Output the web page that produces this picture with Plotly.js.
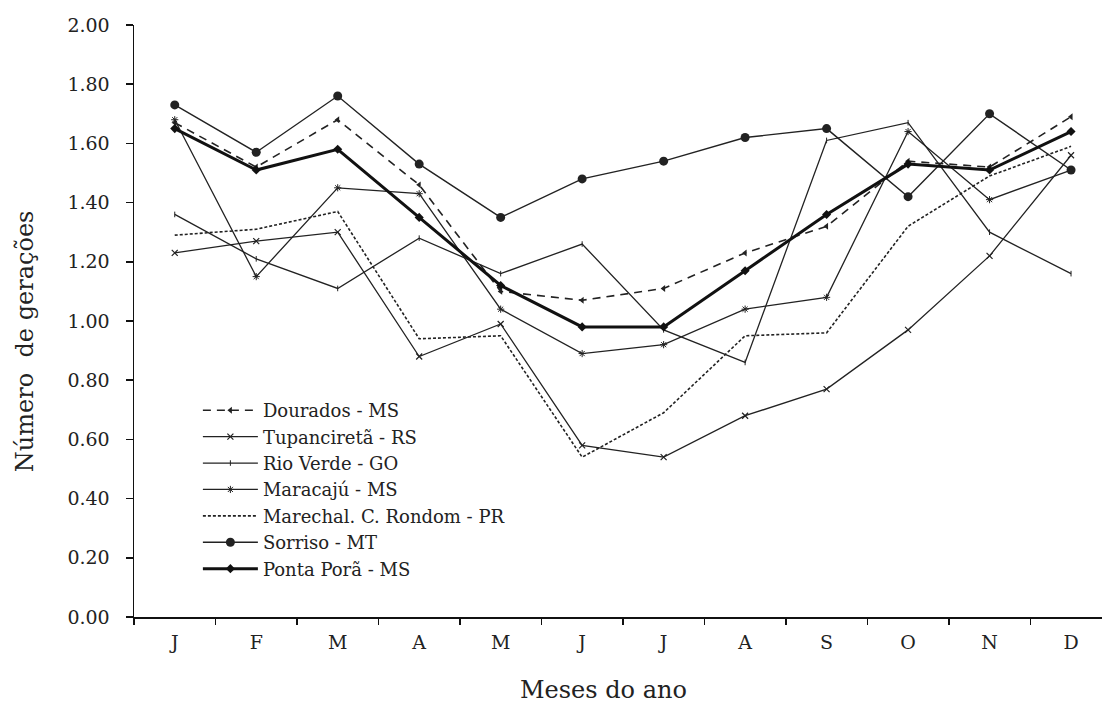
<!DOCTYPE html>
<html>
<head>
<meta charset="utf-8">
<script src="https://cdn.plot.ly/plotly-3.0.1.min.js"></script>
<style>html,body{margin:0;padding:0;background:#fff;}#chart{width:1102px;height:704px;}</style>
</head>
<body>
<div id="chart"></div>
<script>
const months = ["J","F","M","A","M ","J ","J  ","A ","S","O","N","D"];
const monthLabels = ["J","F","M","A","M","J","J","A","S","O","N","D"];

const dourados   = [1.67, 1.52, 1.68, 1.46, 1.10, 1.07, 1.11, 1.23, 1.32, 1.54, 1.52, 1.69];
const tupancireta = [1.23, 1.27, 1.30, 0.88, 0.99, 0.58, 0.54, 0.68, 0.77, 0.97, 1.22, 1.56];
const rioVerde   = [1.36, 1.21, 1.11, 1.28, 1.16, 1.26, 0.97, 0.86, 1.61, 1.67, 1.30, 1.16];
const maracaju   = [1.68, 1.15, 1.45, 1.43, 1.04, 0.89, 0.92, 1.04, 1.08, 1.64, 1.41, 1.51];
const marechal   = [1.29, 1.31, 1.37, 0.94, 0.95, 0.54, 0.69, 0.95, 0.96, 1.32, 1.49, 1.59];
const sorriso    = [1.73, 1.57, 1.76, 1.53, 1.35, 1.48, 1.54, 1.62, 1.65, 1.42, 1.70, 1.51];
const pontaPora  = [1.65, 1.51, 1.58, 1.35, 1.12, 0.98, 0.98, 1.17, 1.36, 1.53, 1.51, 1.64];

const names = ["Dourados - MS","Tupanciretã - RS","Rio Verde - GO","Maracajú - MS","Marechal. C. Rondom - PR","Sorriso - MT","Ponta Porã - MS"];

const ink = "#222";
const FONT = "DejaVu Serif";

const traces = [
  {y: dourados, name: names[0], mode: "lines+markers",
   line: {color: ink, width: 1.6, dash: "8px,6px"},
   marker: {symbol: "triangle-left", size: 6, color: ink}},
  {y: tupancireta, name: names[1], mode: "lines+markers",
   line: {color: ink, width: 1.3},
   marker: {symbol: "x-thin", size: 6, color: ink, line: {color: ink, width: 1.2}}},
  {y: rioVerde, name: names[2], mode: "lines+markers",
   line: {color: ink, width: 1.3},
   marker: {symbol: "line-ns", size: 4, color: ink, line: {color: ink, width: 1}}},
  {y: maracaju, name: names[3], mode: "lines+markers",
   line: {color: ink, width: 1.3},
   marker: {symbol: "asterisk", size: 6, color: ink, line: {color: ink, width: 1}}},
  {y: marechal, name: names[4], mode: "lines",
   line: {color: ink, width: 1.6, dash: "3px,2px"}},
  {y: sorriso, name: names[5], mode: "lines+markers",
   line: {color: ink, width: 1.4},
   marker: {symbol: "circle", size: 9, color: ink}},
  {y: pontaPora, name: names[6], mode: "lines+markers",
   line: {color: "#111", width: 3},
   marker: {symbol: "diamond", size: 7, color: "#111"}}
].map(t => Object.assign({x: months, type: "scatter", cliponaxis: false}, t));

const layout = {
  width: 1102, height: 704,
  margin: {l: 134, r: 0, t: 25, b: 87, pad: 0},
  paper_bgcolor: "#fff", plot_bgcolor: "#fff",
  font: {family: FONT, color: ink, size: 20},
  showlegend: true,
  legend: {x: 0.066, y: 0.38, xanchor: "left", yanchor: "top",
           bgcolor: "rgba(0,0,0,0)", font: {family: FONT, size: 18, color: ink},
           itemwidth: 55, tracegroupgap: 0},
  xaxis: {type: "category", categoryorder: "array", categoryarray: months,
          tickvals: months, ticktext: monthLabels,
          range: [-0.5, 11.38], showgrid: false, zeroline: false,
          showline: true, linecolor: "#111", linewidth: 1.5,
          ticks: "outside", tickson: "boundaries", ticklen: 6, tickwidth: 1.5, tickcolor: "#111",
          tickfont: {family: FONT, size: 19, color: ink}, ticklabelstandoff: 8, fixedrange: true},
  yaxis: {range: [0, 2], dtick: 0.2, tick0: 0, tickformat: ".2f",
          showgrid: false, zeroline: false,
          showline: true, linecolor: "#111", linewidth: 1.5,
          ticks: "outside", ticklen: 7, tickwidth: 1.5, tickcolor: "#111",
          tickfont: {family: FONT, size: 19, color: ink}, ticklabelstandoff: 12, fixedrange: true},
  annotations: [
    {text: "Número\u00a0 de gerações", xref: "paper", yref: "paper", x: 0, y: 0.466,
     xanchor: "center", yanchor: "middle", xshift: -109, textangle: -90, showarrow: false,
     font: {family: FONT, size: 24, color: ink}},
    {text: "Meses do ano", xref: "paper", yref: "paper", x: 0.4855, y: 0,
     xanchor: "center", yanchor: "middle", yshift: -73, showarrow: false,
     font: {family: FONT, size: 24, color: ink}}
  ]
};

Plotly.newPlot("chart", traces, layout, {displayModeBar: false, staticPlot: true});
</script>
</body>
</html>
